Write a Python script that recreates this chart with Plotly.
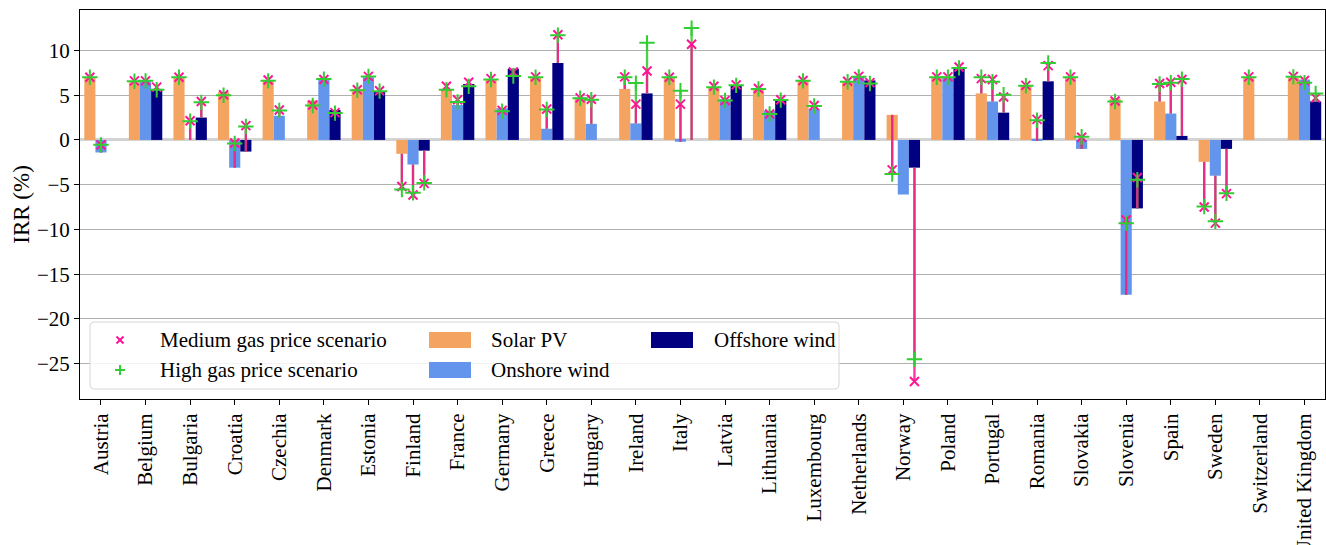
import plotly.graph_objects as go

# ---- data -------------------------------------------------------------
countries = [
    "Austria", "Belgium", "Bulgaria", "Croatia", "Czechia", "Denmark", "Estonia",
    "Finland", "France", "Germany", "Greece", "Hungary", "Ireland", "Italy",
    "Latvia", "Lithuania", "Luxembourg", "Netherlands", "Norway", "Poland",
    "Portugal", "Romania", "Slovakia", "Slovenia", "Spain", "Sweden",
    "Switzerland", "United Kingdom",
]

# baseline IRR (%) per technology
solar = [7.0, 6.45, 7.0, 5.35, 6.6, 4.4, 5.7, -1.55, 5.7, 6.8, 7.0, 4.75, 5.7, 7.0,
         5.9, 5.75, 6.6, 6.45, 2.8, 7.0, 5.2, 6.1, 7.05, 4.6, 4.3, -2.45, 7.05, 6.95]
onshore = [-1.4, 6.6, 0.0, -3.1, 2.7, 6.9, 7.0, -2.75, 3.9, 3.55, 1.25, 1.8, 1.85, -0.2,
           4.55, 3.25, 3.45, 7.05, -6.1, 7.0, 4.3, -0.1, -1.0, -17.3, 2.95, -4.0, None, 6.75]
offshore = [None, 5.7, 2.5, -1.3, None, 3.35, 5.35, -1.2, 6.25, 7.95, 8.6, None, 5.2, 0.0,
            6.1, 4.45, None, 6.65, -3.1, 8.1, 3.05, 6.55, None, -7.65, 0.45, -1.0, None, 4.3]

# IRR (%) under the medium gas price scenario
medium_solar = [7.0, 6.6, 7.0, 5.05, 6.7, 3.9, 5.6, -5.2, 6.0, 6.85, 7.05, 4.7, 7.05, 7.0,
                6.0, 5.75, 6.65, 6.55, -3.35, 7.05, 6.85, 6.1, 7.05, 4.35, 6.3, -7.5, 7.05, 7.1]
medium_onshore = [-0.55, 6.6, 2.15, -0.35, 3.35, 6.75, 7.1, -6.15, 4.5, 3.3, 3.45, 4.55, 4.0, 4.0,
                  4.4, 2.9, 3.85, 7.1, None, 7.05, 6.75, 2.3, 0.3, -8.95, 6.45, -9.3, None, 6.65]
medium_offshore = [None, 5.9, 4.3, 1.6, None, 3.05, 5.5, -4.85, 6.45, 7.6, 11.75, None, 7.7, 10.7,
                   6.15, 4.5, None, 6.4, -27.0, 8.15, 4.8, 8.3, None, -4.2, 6.75, -6.0, None, 4.7]

# IRR (%) under the high gas price scenario
high_solar = [7.0, 6.55, 7.0, 5.0, 6.6, 3.85, 5.55, -5.55, 5.6, 6.75, 7.0, 4.65, 7.0, 7.0,
              5.9, 5.7, 6.6, 6.5, -3.8, 7.0, 7.0, 6.05, 7.0, 4.3, 6.25, -7.45, 7.0, 7.05]
high_onshore = [-0.55, 6.6, 2.1, -0.4, 3.3, 6.8, 7.1, -5.9, 4.25, 3.2, 3.4, 4.5, 6.35, 5.5,
                4.4, 2.9, 3.8, 7.05, None, 7.0, 6.5, 2.2, 0.35, -9.3, 6.4, -9.1, None, 6.4]
high_offshore = [None, 5.6, 4.2, 1.5, None, 3.0, 5.45, -4.8, 6.0, 7.15, 11.7, None, 10.85, 12.5,
                 6.1, 4.45, None, 6.3, -24.5, 8.05, 5.05, 8.6, None, -4.45, 6.8, -5.95, None, 5.2]

# ---- styling ------------------------------------------------------------
FONT = "Liberation Serif, Times New Roman, serif"
FS = 21
PINK = "#ff1493"
GREEN = "#32cd32"
BAR_W = 0.25

W, H = 1326, 545
M_L, M_R, M_T, M_B = 80, 1, 10, 146

techs = [
    ("Solar PV", solar, medium_solar, high_solar, "#f4a460", -BAR_W),
    ("Onshore wind", onshore, medium_onshore, high_onshore, "#6495ed", 0.0),
    ("Offshore wind", offshore, medium_offshore, high_offshore, "#000080", BAR_W),
]

fig = go.Figure()

# bars
for name, base, _, _, color, off in techs:
    fig.add_trace(go.Bar(
        x=list(range(len(countries))), y=base, name=name,
        width=BAR_W, offset=off - BAR_W / 2,
        marker=dict(color=color, line=dict(width=0)),
        showlegend=False,
    ))

# connectors from the baseline bar to each scenario value
def segments(base, target, off):
    xs, ys = [], []
    for i, (b, t) in enumerate(zip(base, target)):
        if b is None or t is None:
            continue
        xs += [i + off, i + off, None]
        ys += [b, t, None]
    return xs, ys

for scen_idx, color in ((3, GREEN), (2, PINK)):
    xs, ys = [], []
    for t in techs:
        sx, sy = segments(t[1], t[scen_idx], t[5])
        xs += sx
        ys += sy
    fig.add_trace(go.Scatter(
        x=xs, y=ys, mode="lines", line=dict(color=color, width=2.3),
        opacity=0.88, showlegend=False, hoverinfo="skip",
    ))

# scenario markers
for scen_idx, color, symbol, size in ((2, PINK, "x-thin", 9), (3, GREEN, "cross-thin", 11)):
    xs, ys = [], []
    for t in techs:
        for i, v in enumerate(t[scen_idx]):
            if v is not None:
                xs.append(i + t[5])
                ys.append(v)
    fig.add_trace(go.Scatter(
        x=xs, y=ys, mode="markers",
        marker=dict(symbol=symbol, size=size, line=dict(color=color, width=2)),
        showlegend=False,
    ))

# ---- legend box (pixel positions mapped onto paper coordinates) ---------
PW = W - M_L - M_R
PH = H - M_T - M_B


def px(x):
    return (x - M_L) / PW


def py(y):
    return (H - M_B - y) / PH


bx0, bx1, by0, by1, r = 90, 839, 322, 389, 4
box_path = (
    f"M{px(bx0 + r)},{py(by0)} L{px(bx1 - r)},{py(by0)} Q{px(bx1)},{py(by0)} {px(bx1)},{py(by0 + r)} "
    f"L{px(bx1)},{py(by1 - r)} Q{px(bx1)},{py(by1)} {px(bx1 - r)},{py(by1)} L{px(bx0 + r)},{py(by1)} "
    f"Q{px(bx0)},{py(by1)} {px(bx0)},{py(by1 - r)} L{px(bx0)},{py(by0 + r)} "
    f"Q{px(bx0)},{py(by0)} {px(bx0 + r)},{py(by0)} Z"
)
shapes = [dict(type="path", path=box_path, xref="paper", yref="paper",
               fillcolor="rgba(255,255,255,0.85)", line=dict(color="#d6d6d6", width=1),
               layer="above")]

# scenario symbols in the legend
mx, my1, my2 = 120, 340, 370
for (x0, y0, x1, y1) in ((mx - 3.5, my1 - 3.5, mx + 3.5, my1 + 3.5),
                         (mx - 3.5, my1 + 3.5, mx + 3.5, my1 - 3.5)):
    shapes.append(dict(type="line", xref="paper", yref="paper",
                       x0=px(x0), y0=py(y0), x1=px(x1), y1=py(y1),
                       line=dict(color=PINK, width=2), layer="above"))
for (x0, y0, x1, y1) in ((mx - 5, my2, mx + 5, my2), (mx, my2 - 5, mx, my2 + 5)):
    shapes.append(dict(type="line", xref="paper", yref="paper",
                       x0=px(x0), y0=py(y0), x1=px(x1), y1=py(y1),
                       line=dict(color=GREEN, width=2), layer="above"))

# technology patches
legend_patches = [
    (429, 340, techs[0][4]),
    (429, 370, techs[1][4]),
    (651, 340, techs[2][4]),
]
for x0, yc, color in legend_patches:
    shapes.append(dict(type="rect", xref="paper", yref="paper",
                       x0=px(x0), x1=px(x0 + 42), y0=py(yc + 8), y1=py(yc - 8),
                       fillcolor=color, line=dict(width=0), layer="above"))

legend_labels = [
    (158, 340, "Medium gas price scenario"),
    (158, 370, "High gas price scenario"),
    (489, 340, "Solar PV"),
    (489, 370, "Onshore wind"),
    (712, 340, "Offshore wind"),
]
annotations = [
    dict(x=px(x), y=py(y), xref="paper", yref="paper", text=t, showarrow=False,
         xanchor="left", yanchor="middle", font=dict(family=FONT, size=FS, color="black"))
    for x, y, t in legend_labels
]

# ---- layout -------------------------------------------------------------
fig.update_layout(
    width=W, height=H,
    margin=dict(l=M_L, r=M_R, t=M_T, b=M_B),
    paper_bgcolor="white", plot_bgcolor="white",
    font=dict(family=FONT, size=FS, color="black"),
    barmode="overlay",
    showlegend=False,
    shapes=shapes,
    annotations=annotations,
    xaxis=dict(
        range=[-0.471, 27.46], automargin=False,
        tickmode="array", tickvals=list(range(len(countries))), ticktext=countries,
        tickangle=-90, ticks="outside", ticklen=5, tickcolor="black",
        showgrid=False, zeroline=False,
        showline=True, mirror=True, linecolor="black", linewidth=1,
        tickfont=dict(family=FONT, size=FS),
    ),
    yaxis=dict(
        range=[-28.95, 14.52], tick0=0, dtick=5, automargin=False,
        ticks="outside", ticklen=5, tickcolor="black",
        showgrid=True, gridcolor="#b0b0b0", gridwidth=1,
        zeroline=True, zerolinecolor="#d3d3d3", zerolinewidth=2.5,
        showline=True, mirror=True, linecolor="black", linewidth=1,
        tickfont=dict(family=FONT, size=FS),
        title=dict(text="IRR (%)", font=dict(family=FONT, size=23), standoff=0),
    ),
)

fig.write_html("out.html")
